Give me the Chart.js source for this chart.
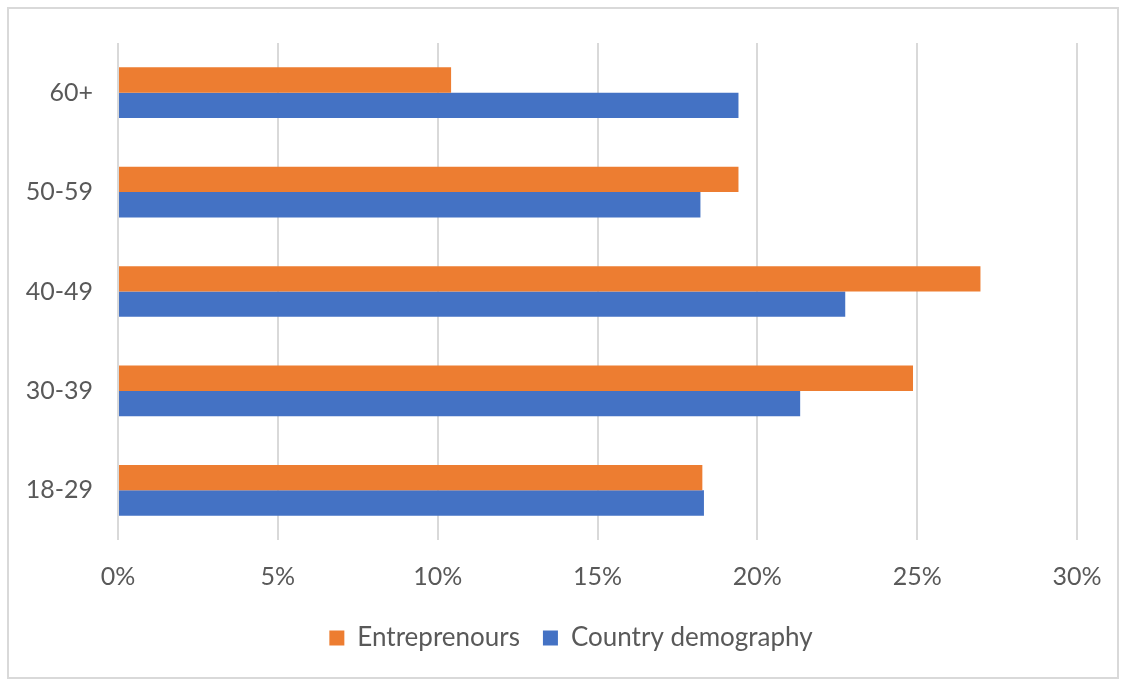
<!DOCTYPE html>
<html>
<head>
<meta charset="utf-8">
<script src="https://cdn.jsdelivr.net/npm/chart.js@4"></script>
<style>
  html, body { margin: 0; padding: 0; background: #fff; }
  #frame {
    position: absolute; left: 7px; top: 7px;
    width: 1112px; height: 672px;
    box-sizing: border-box; border: 2px solid #d9d9d9;
  }
  #frame canvas { display: block; }
</style>
</head>
<body>
<div id="frame"><canvas id="ageChart" width="1108" height="668"></canvas></div>
<script>
const categories = ['60+', '50-59', '40-49', '30-39', '18-29'];
const entrepreneurs = [10.42, 19.41, 26.98, 24.87, 18.28];
const countryDemography = [19.41, 18.22, 22.75, 21.34, 18.33];
const seriesNames = ['Entreprenours', 'Country demography'];
const xTicks = [0, 5, 10, 15, 20, 25, 30];

// the legend in the original sits a bit right of centre
const legendShift = {
    id: 'legendShift',
    afterLayout(chart) {
        chart.legend.left += 28;
        chart.legend.right += 28;
    }
};

(() => {
    const ctx = document.getElementById('ageChart').getContext('2d');
    const font = { family: 'Lato', size: 25 };

    new Chart(ctx, {
        type: 'bar',
        data: {
            labels: categories,
            datasets: [{
                label: seriesNames[0],
                data: entrepreneurs,
                backgroundColor: '#ED7D31'
            }, {
                label: seriesNames[1],
                data: countryDemography,
                backgroundColor: '#4472C4'
            }]
        },
        options: {
            indexAxis: 'y', // horizontal bars
            responsive: false,
            animation: false,
            datasets: {
                bar: { barPercentage: 1, categoryPercentage: 0.51 }
            },
            layout: { padding: { top: 34, right: 40, bottom: 16, left: 0 } },
            plugins: {
                legend: {
                    position: 'bottom',
                    labels: {
                        font: { family: 'Lato', size: 26 },
                        color: '#595959',
                        boxWidth: 15,
                        boxHeight: 15,
                        padding: 23
                    }
                },
                tooltip: { enabled: false }
            },
            scales: {
                x: {
                    min: xTicks[0],
                    max: xTicks[xTicks.length - 1],
                    afterBuildTicks: (axis) => { axis.ticks = xTicks.map(v => ({ value: v })); },
                    afterFit: (axis) => {
                        axis.height = 62;
                        axis.paddingLeft = 0; // layout padding alone sets the plot edges
                        axis.paddingRight = 0;
                    },
                    ticks: {
                        font: font,
                        color: '#595959',
                        padding: 22,
                        callback: (value) => value + '%'
                    },
                    grid: { color: '#d9d9d9', lineWidth: 2, drawTicks: false },
                    border: { display: false }
                },
                y: {
                    afterFit: (axis) => {
                        axis.width = 109;
                        axis.paddingTop = 0;
                        axis.paddingBottom = 0;
                    },
                    ticks: { font: font, color: '#595959', padding: 25 },
                    grid: { display: false, drawTicks: false },
                    border: { display: false }
                }
            }
        },
        plugins: [legendShift]
    });
})();
</script>
</body>
</html>
